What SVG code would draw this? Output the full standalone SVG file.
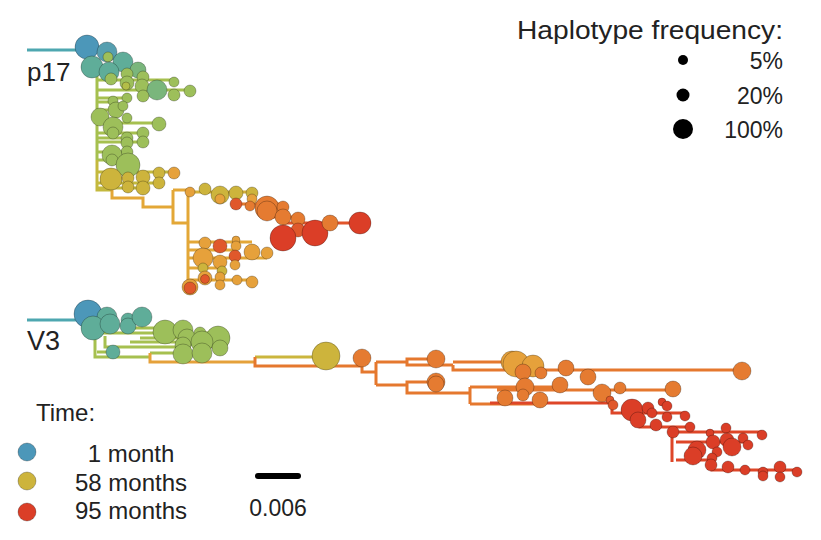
<svg xmlns="http://www.w3.org/2000/svg" width="821" height="540" viewBox="0 0 821 540">
<style>
text{font-family:"Liberation Sans",Arial,sans-serif;fill:#222;}
.l{fill:none;stroke-width:3;stroke-linejoin:miter;stroke-linecap:butt;}
circle{stroke:#000;stroke-opacity:.32;stroke-width:.8;}
.B{fill:#4c97b9}.BT{fill:#569fb0}.T{fill:#5fad99}.TG{fill:#7ab67c}.G{fill:#9dbf5a}.YG{fill:#b3be48}.M{fill:#cdb43c}.LO{fill:#e6a13b}.O{fill:#e57b31}.OR{fill:#e0582b}.R{fill:#db3e27}
.k{fill:#000;stroke:none}
</style>
<rect width="821" height="540" fill="#fff"/>
<g id="connectors">
<path class="l" stroke="#4ea7b0" d="M27 50H80"/>
<path class="l" stroke="#a6c04f" d="M97 60V160M97 80H174M97 90H190M97 98H127M97 102H113M97 110H116M97 123H159M97 133H143M97 138H127M97 142H143M97 152H127M97 160H112"/>
<path class="l" stroke="#c4b93e" d="M97 160V190H112M97 172H174M97 183H159M97 188H143"/>
<path class="l" stroke="#e3a737" d="M112 190V198H143V207H173M173 190V223H188M173 190H190M188 192V288M188 242H252M188 250H236M188 258H267M188 268H222M188 280H252M188 287H190"/>
<path class="l" stroke="#d6b23a" d="M190 192H252"/>
<path class="l" stroke="#e57b31" d="M236 204H283M267 212V217H298"/>
<path class="l" stroke="#e2552b" d="M283 223H360"/>
<path class="l" stroke="#4ea7b0" d="M27 320H78"/>
<path class="l" stroke="#a6c04f" d="M95 330V357H150M97 352H113M150 353H183M100 333H165M105 336V347H183M127 328H165M130 342H202M140 338H187M200 333H218"/>
<path class="l" stroke="#e5a13a" d="M150 353V362H255"/>
<path class="l" stroke="#cbb63d" d="M255 357H326"/>
<path class="l" stroke="#e5782e" d="M255 357V366H362V372H376M376 362V385M376 362H407V359H436M407 362V365H453M453 362H512M453 365V370H742M376 385H407V382H436M407 385V393H470M470 387V404M470 387H560M497 390H673M470 404H540"/>
<path class="l" stroke="#de4628" d="M490 403H612V413H685M640 413V427H690M672 427V462M672 432H762M676 442H748M676 460H712V470H797"/>
</g>
<g id="p17-tree">
<circle class="B" cx="87" cy="47" r="12"/>
<circle class="BT" cx="107" cy="52" r="10"/>
<circle class="G" cx="108" cy="57" r="5"/>
<circle class="T" cx="92" cy="67" r="11"/>
<circle class="T" cx="123" cy="62" r="10"/>
<circle class="T" cx="109" cy="72" r="10"/>
<circle class="TG" cx="138" cy="70" r="8"/>
<circle class="G" cx="143" cy="77" r="6"/>
<circle class="G" cx="111" cy="79" r="6"/>
<circle class="G" cx="127" cy="74" r="6"/>
<circle class="G" cx="127" cy="83" r="7"/>
<circle class="YG" cx="126" cy="86" r="4"/>
<circle class="G" cx="142" cy="86" r="7"/>
<circle class="TG" cx="157" cy="90" r="10"/>
<circle class="G" cx="174" cy="82" r="5"/>
<circle class="G" cx="174" cy="95" r="6"/>
<circle class="G" cx="190" cy="91" r="6"/>
<circle class="G" cx="143" cy="96" r="6"/>
<circle class="G" cx="127" cy="98" r="5"/>
<circle class="G" cx="113" cy="101" r="5"/>
<circle class="G" cx="116" cy="110" r="8"/>
<circle class="G" cx="123" cy="106" r="5"/>
<circle class="G" cx="100" cy="117" r="9"/>
<circle class="G" cx="113" cy="127" r="10"/>
<circle class="G" cx="127" cy="118" r="5"/>
<circle class="G" cx="159" cy="124" r="7"/>
<circle class="G" cx="113" cy="133" r="6"/>
<circle class="G" cx="127" cy="138" r="6"/>
<circle class="G" cx="127" cy="143" r="6"/>
<circle class="G" cx="143" cy="133" r="6"/>
<circle class="G" cx="143" cy="142" r="6"/>
<circle class="G" cx="127" cy="152" r="6"/>
<circle class="G" cx="112" cy="155" r="10"/>
<circle class="G" cx="112" cy="160" r="6"/>
<circle class="G" cx="128" cy="165" r="12"/>
<circle class="M" cx="111" cy="179" r="11"/>
<circle class="M" cx="128" cy="178" r="6"/>
<circle class="M" cx="128" cy="187" r="6"/>
<circle class="M" cx="143" cy="177" r="7"/>
<circle class="M" cx="143" cy="188" r="7"/>
<circle class="M" cx="159" cy="173" r="6"/>
<circle class="M" cx="159" cy="183" r="6"/>
<circle class="LO" cx="174" cy="173" r="6"/>
<circle class="LO" cx="190" cy="192" r="5"/>
<circle class="M" cx="205" cy="189" r="6"/>
<circle class="M" cx="220" cy="195" r="9"/>
<circle class="LO" cx="220" cy="199" r="5"/>
<circle class="M" cx="236" cy="193" r="7"/>
<circle class="M" cx="252" cy="193" r="6"/>
<circle class="LO" cx="252" cy="199" r="5"/>
<circle class="OR" cx="236" cy="204" r="6"/>
<circle class="O" cx="250" cy="206" r="5"/>
<circle class="O" cx="267" cy="208" r="12"/>
<circle class="O" cx="267" cy="211" r="10"/>
<circle class="O" cx="283" cy="207" r="6"/>
<circle class="O" cx="283" cy="217" r="8"/>
<circle class="O" cx="298" cy="219" r="7"/>
<circle class="OR" cx="298" cy="230" r="7"/>
<circle class="R" cx="283" cy="238" r="13"/>
<circle class="R" cx="315" cy="233" r="13"/>
<circle class="O" cx="330" cy="223" r="8"/>
<circle class="R" cx="360" cy="223" r="11"/>
<circle class="LO" cx="205" cy="243" r="6"/>
<circle class="OR" cx="220" cy="246" r="7"/>
<circle class="LO" cx="236" cy="240" r="4"/>
<circle class="LO" cx="236" cy="246" r="5"/>
<circle class="LO" cx="252" cy="252" r="8"/>
<circle class="LO" cx="267" cy="253" r="6"/>
<circle class="LO" cx="203" cy="258" r="10"/>
<circle class="LO" cx="220" cy="262" r="7"/>
<circle class="OR" cx="235" cy="256" r="6"/>
<circle class="LO" cx="235" cy="265" r="5"/>
<circle class="M" cx="203" cy="268" r="5"/>
<circle class="M" cx="222" cy="271" r="5"/>
<circle class="LO" cx="205" cy="278" r="7"/>
<circle class="OR" cx="205" cy="279" r="4.5"/>
<circle class="LO" cx="220" cy="277" r="5"/>
<circle class="LO" cx="220" cy="285" r="5"/>
<circle class="LO" cx="237" cy="280" r="5"/>
<circle class="LO" cx="252" cy="282" r="6"/>
<circle class="LO" cx="190" cy="287" r="8"/>
<circle class="OR" cx="190" cy="288" r="6"/>
</g>
<g id="v3-tree">
<circle class="B" cx="88" cy="314" r="14"/>
<circle class="T" cx="107" cy="317" r="10"/>
<circle class="T" cx="93" cy="328" r="12"/>
<circle class="T" cx="110" cy="324" r="10"/>
<circle class="T" cx="128" cy="320" r="7"/>
<circle class="T" cx="128" cy="326" r="8"/>
<circle class="T" cx="142" cy="317" r="10"/>
<circle class="T" cx="113" cy="352" r="7"/>
<circle class="G" cx="165" cy="332" r="12"/>
<circle class="G" cx="183" cy="330" r="10"/>
<circle class="G" cx="187" cy="338" r="9"/>
<circle class="G" cx="200" cy="333" r="6"/>
<circle class="G" cx="218" cy="338" r="12"/>
<circle class="G" cx="202" cy="342" r="11"/>
<circle class="G" cx="183" cy="345" r="8"/>
<circle class="G" cx="220" cy="348" r="8"/>
<circle class="G" cx="183" cy="354" r="10"/>
<circle class="G" cx="202" cy="353" r="10"/>
<circle class="M" cx="326" cy="356" r="14"/>
<circle class="O" cx="362" cy="358" r="9"/>
<circle class="O" cx="436" cy="359" r="9"/>
<circle class="O" cx="436" cy="382" r="9"/>
<circle class="O" cx="436" cy="384" r="8"/>
<circle class="LO" cx="512" cy="362" r="11"/>
<circle class="LO" cx="516" cy="364" r="13"/>
<circle class="LO" cx="533" cy="366" r="11"/>
<circle class="O" cx="523" cy="372" r="8"/>
<circle class="O" cx="541" cy="373" r="6"/>
<circle class="O" cx="566" cy="368" r="8"/>
<circle class="O" cx="588" cy="377" r="8"/>
<circle class="O" cx="525" cy="387" r="9"/>
<circle class="O" cx="523" cy="395" r="6"/>
<circle class="O" cx="505" cy="398" r="8"/>
<circle class="O" cx="540" cy="400" r="8"/>
<circle class="O" cx="560" cy="385" r="8"/>
<circle class="O" cx="742" cy="371" r="9"/>
<circle class="O" cx="602" cy="393" r="9"/>
<circle class="O" cx="620" cy="388" r="6"/>
<circle class="O" cx="673" cy="389" r="8"/>
<circle class="OR" cx="610" cy="400" r="4"/>
<circle class="OR" cx="613" cy="405" r="5"/>
<circle class="R" cx="632" cy="410" r="11"/>
<circle class="R" cx="638" cy="420" r="8"/>
<circle class="R" cx="648" cy="408" r="6"/>
<circle class="R" cx="652" cy="413" r="5"/>
<circle class="R" cx="662" cy="402" r="4"/>
<circle class="R" cx="667" cy="406" r="5"/>
<circle class="R" cx="656" cy="425" r="6"/>
<circle class="R" cx="667" cy="417" r="5"/>
<circle class="R" cx="685" cy="416" r="5"/>
<circle class="R" cx="690" cy="427" r="5"/>
<circle class="R" cx="673" cy="432" r="6"/>
<circle class="R" cx="710" cy="433" r="4"/>
<circle class="R" cx="726" cy="428" r="5"/>
<circle class="R" cx="713" cy="442" r="7"/>
<circle class="R" cx="697" cy="450" r="9"/>
<circle class="R" cx="693" cy="456" r="9"/>
<circle class="R" cx="727" cy="440" r="7"/>
<circle class="R" cx="732" cy="447" r="9"/>
<circle class="R" cx="743" cy="438" r="5"/>
<circle class="R" cx="748" cy="445" r="5"/>
<circle class="R" cx="762" cy="435" r="5"/>
<circle class="R" cx="717" cy="452" r="5"/>
<circle class="R" cx="712" cy="458" r="5"/>
<circle class="R" cx="711" cy="465" r="6"/>
<circle class="R" cx="728" cy="467" r="6"/>
<circle class="R" cx="745" cy="470" r="5"/>
<circle class="R" cx="763" cy="472" r="5"/>
<circle class="R" cx="763" cy="476" r="5"/>
<circle class="R" cx="780" cy="467" r="6"/>
<circle class="R" cx="780" cy="477" r="5"/>
<circle class="R" cx="797" cy="472" r="5"/>
</g>
<g id="labels">
<text x="27" y="81" font-size="26">p17</text>
<text x="27" y="350" font-size="27">V3</text>
</g>
<g id="legend-frequency">
<text x="783" y="39" font-size="25" text-anchor="end" textLength="266" lengthAdjust="spacingAndGlyphs">Haplotype frequency:</text>
<circle class="k" cx="683" cy="60" r="5"/>
<text x="783" y="69" font-size="23" text-anchor="end">5%</text>
<circle class="k" cx="683" cy="95" r="6.5"/>
<text x="783" y="104" font-size="23" text-anchor="end">20%</text>
<circle class="k" cx="683" cy="129" r="10"/>
<text x="783" y="138" font-size="23" text-anchor="end">100%</text>
</g>
<g id="legend-time">
<text x="36" y="421" font-size="24">Time:</text>
<circle class="B" cx="27" cy="452" r="9"/>
<text x="131" y="462" font-size="24" text-anchor="middle">1 month</text>
<circle class="M" cx="27" cy="481" r="9"/>
<text x="131" y="491" font-size="24" text-anchor="middle">58 months</text>
<circle class="R" cx="27" cy="512" r="9"/>
<text x="131" y="519" font-size="24" text-anchor="middle">95 months</text>
</g>
<g id="scale-bar">
<path d="M258 476H298" stroke="#000" stroke-width="6" stroke-linecap="round" fill="none"/>
<text x="278" y="516" font-size="23" text-anchor="middle">0.006</text>
</g>
</svg>
